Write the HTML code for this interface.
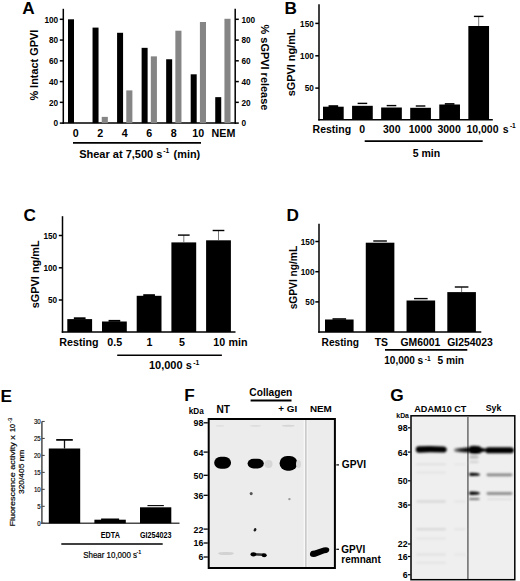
<!DOCTYPE html>
<html><head><meta charset="utf-8"><style>
html,body{margin:0;padding:0;background:#fff;}
svg{display:block;font-family:"Liberation Sans", sans-serif;}
</style></head><body>
<svg width="520" height="581" viewBox="0 0 520 581">
<defs>
<filter id="bl1" x="-50%" y="-50%" width="200%" height="200%"><feGaussianBlur stdDeviation="0.75"/></filter>
<filter id="bl2" x="-50%" y="-50%" width="200%" height="200%"><feGaussianBlur stdDeviation="0.8"/></filter>
<linearGradient id="lg2" x1="0" x2="1" y1="0" y2="0"><stop offset="0" stop-color="#9a9a9a"/><stop offset="0.45" stop-color="#333"/><stop offset="1" stop-color="#000"/></linearGradient>
</defs>
<rect width="520" height="581" fill="#fff"/>
<text transform="translate(22.30,13.80)" font-size="17.2" font-weight="bold" text-anchor="start" fill="#000" >A</text>
<line x1="63.30" y1="8.80" x2="63.30" y2="123.85" stroke="#000" stroke-width="1.5"/>
<line x1="235.20" y1="8.80" x2="235.20" y2="123.85" stroke="#000" stroke-width="1.5"/>
<line x1="62.55" y1="123.10" x2="235.95" y2="123.10" stroke="#000" stroke-width="1.5"/>
<line x1="59.80" y1="123.10" x2="63.30" y2="123.10" stroke="#000" stroke-width="1.5"/>
<line x1="235.20" y1="123.10" x2="238.80" y2="123.10" stroke="#000" stroke-width="1.5"/>
<text transform="translate(58.20,126.45) scale(0.84,1.0)" font-size="9.8" font-weight="bold" text-anchor="end" fill="#000" >0</text>
<text transform="translate(241.40,126.45) scale(0.84,1.0)" font-size="9.8" font-weight="bold" text-anchor="start" fill="#000" >0</text>
<line x1="59.80" y1="102.34" x2="63.30" y2="102.34" stroke="#000" stroke-width="1.5"/>
<line x1="235.20" y1="102.34" x2="238.80" y2="102.34" stroke="#000" stroke-width="1.5"/>
<text transform="translate(58.20,105.69) scale(0.84,1.0)" font-size="9.8" font-weight="bold" text-anchor="end" fill="#000" >20</text>
<text transform="translate(241.40,105.69) scale(0.84,1.0)" font-size="9.8" font-weight="bold" text-anchor="start" fill="#000" >20</text>
<line x1="59.80" y1="81.58" x2="63.30" y2="81.58" stroke="#000" stroke-width="1.5"/>
<line x1="235.20" y1="81.58" x2="238.80" y2="81.58" stroke="#000" stroke-width="1.5"/>
<text transform="translate(58.20,84.93) scale(0.84,1.0)" font-size="9.8" font-weight="bold" text-anchor="end" fill="#000" >40</text>
<text transform="translate(241.40,84.93) scale(0.84,1.0)" font-size="9.8" font-weight="bold" text-anchor="start" fill="#000" >40</text>
<line x1="59.80" y1="60.82" x2="63.30" y2="60.82" stroke="#000" stroke-width="1.5"/>
<line x1="235.20" y1="60.82" x2="238.80" y2="60.82" stroke="#000" stroke-width="1.5"/>
<text transform="translate(58.20,64.17) scale(0.84,1.0)" font-size="9.8" font-weight="bold" text-anchor="end" fill="#000" >60</text>
<text transform="translate(241.40,64.17) scale(0.84,1.0)" font-size="9.8" font-weight="bold" text-anchor="start" fill="#000" >60</text>
<line x1="59.80" y1="40.06" x2="63.30" y2="40.06" stroke="#000" stroke-width="1.5"/>
<line x1="235.20" y1="40.06" x2="238.80" y2="40.06" stroke="#000" stroke-width="1.5"/>
<text transform="translate(58.20,43.41) scale(0.84,1.0)" font-size="9.8" font-weight="bold" text-anchor="end" fill="#000" >80</text>
<text transform="translate(241.40,43.41) scale(0.84,1.0)" font-size="9.8" font-weight="bold" text-anchor="start" fill="#000" >80</text>
<line x1="59.80" y1="19.30" x2="63.30" y2="19.30" stroke="#000" stroke-width="1.5"/>
<line x1="235.20" y1="19.30" x2="238.80" y2="19.30" stroke="#000" stroke-width="1.5"/>
<text transform="translate(58.20,22.65) scale(0.84,1.0)" font-size="9.8" font-weight="bold" text-anchor="end" fill="#000" >100</text>
<text transform="translate(241.40,22.65) scale(0.84,1.0)" font-size="9.8" font-weight="bold" text-anchor="start" fill="#000" >100</text>
<rect x="68.00" y="19.30" width="6.00" height="103.80" fill="#000"/>
<rect x="92.54" y="27.60" width="6.00" height="95.50" fill="#000"/>
<rect x="101.74" y="116.87" width="6.10" height="6.23" fill="#858585"/>
<rect x="117.08" y="32.79" width="6.00" height="90.31" fill="#000"/>
<rect x="126.28" y="90.40" width="6.10" height="32.70" fill="#858585"/>
<rect x="141.62" y="47.84" width="6.00" height="75.25" fill="#000"/>
<rect x="150.82" y="56.36" width="6.10" height="66.74" fill="#858585"/>
<rect x="166.16" y="59.26" width="6.00" height="63.84" fill="#000"/>
<rect x="175.36" y="30.72" width="6.10" height="92.38" fill="#858585"/>
<rect x="190.70" y="74.31" width="6.00" height="48.79" fill="#000"/>
<rect x="199.90" y="22.00" width="6.10" height="101.10" fill="#858585"/>
<rect x="215.24" y="97.15" width="6.00" height="25.95" fill="#000"/>
<rect x="224.44" y="18.78" width="6.10" height="104.32" fill="#858585"/>
<text transform="translate(75.60,137.20)" font-size="10.7" font-weight="bold" text-anchor="middle" fill="#000" >0</text>
<text transform="translate(100.14,137.20)" font-size="10.7" font-weight="bold" text-anchor="middle" fill="#000" >2</text>
<text transform="translate(124.68,137.20)" font-size="10.7" font-weight="bold" text-anchor="middle" fill="#000" >4</text>
<text transform="translate(149.22,137.20)" font-size="10.7" font-weight="bold" text-anchor="middle" fill="#000" >6</text>
<text transform="translate(173.76,137.20)" font-size="10.7" font-weight="bold" text-anchor="middle" fill="#000" >8</text>
<text transform="translate(198.30,137.20)" font-size="10.7" font-weight="bold" text-anchor="middle" fill="#000" >10</text>
<text transform="translate(223.44,137.20)" font-size="10.7" font-weight="bold" text-anchor="middle" fill="#000" >NEM</text>
<line x1="73.00" y1="142.80" x2="201.00" y2="142.80" stroke="#000" stroke-width="1.8"/>
<text transform="translate(79.20,157.80)" font-size="11.0" font-weight="bold" text-anchor="start" fill="#000" >Shear at 7,500 s</text>
<text transform="translate(163.20,153.30)" font-size="6.8" font-weight="bold" text-anchor="start" fill="#000" >-1</text>
<text transform="translate(173.60,157.70)" font-size="10.9" font-weight="bold" text-anchor="start" fill="#000" >(min)</text>
<text transform="translate(38.10,100.60) rotate(-90)" font-size="10.9" font-weight="bold" text-anchor="start" fill="#000" >% Intact GPVI</text>
<text transform="translate(260.90,24.60) rotate(90)" font-size="10.95" font-weight="bold" text-anchor="start" fill="#000" >% sGPVI release</text>
<text transform="translate(284.60,13.60)" font-size="17.2" font-weight="bold" text-anchor="start" fill="#000" >B</text>
<line x1="319.00" y1="4.30" x2="319.00" y2="120.55" stroke="#000" stroke-width="1.5"/>
<line x1="318.25" y1="119.80" x2="492.80" y2="119.80" stroke="#000" stroke-width="1.5"/>
<line x1="315.30" y1="88.10" x2="319.00" y2="88.10" stroke="#000" stroke-width="1.5"/>
<text transform="translate(313.80,91.45) scale(0.84,1.0)" font-size="9.8" font-weight="bold" text-anchor="end" fill="#000" >50</text>
<line x1="315.30" y1="55.80" x2="319.00" y2="55.80" stroke="#000" stroke-width="1.5"/>
<text transform="translate(313.80,59.15) scale(0.84,1.0)" font-size="9.8" font-weight="bold" text-anchor="end" fill="#000" >100</text>
<line x1="315.30" y1="23.40" x2="319.00" y2="23.40" stroke="#000" stroke-width="1.5"/>
<text transform="translate(313.80,26.75) scale(0.84,1.0)" font-size="9.8" font-weight="bold" text-anchor="end" fill="#000" >150</text>
<rect x="323.00" y="106.70" width="20.70" height="13.10" fill="#000"/>
<rect x="328.55" y="105.20" width="9.60" height="1.80" fill="#000"/>
<rect x="352.07" y="105.80" width="20.70" height="14.00" fill="#000"/>
<rect x="357.62" y="102.70" width="9.60" height="1.40" fill="#000"/>
<rect x="381.14" y="107.50" width="20.70" height="12.30" fill="#000"/>
<rect x="386.69" y="104.90" width="9.60" height="1.40" fill="#000"/>
<rect x="410.21" y="107.80" width="20.70" height="12.00" fill="#000"/>
<rect x="415.76" y="105.30" width="9.60" height="1.40" fill="#000"/>
<rect x="439.28" y="104.50" width="20.70" height="15.30" fill="#000"/>
<rect x="444.83" y="103.10" width="9.60" height="1.70" fill="#000"/>
<rect x="468.35" y="26.00" width="20.70" height="93.80" fill="#000"/>
<line x1="478.70" y1="26.00" x2="478.70" y2="16.40" stroke="#555" stroke-width="0.8"/>
<rect x="473.90" y="15.70" width="9.60" height="1.40" fill="#000"/>
<text transform="translate(331.80,133.00)" font-size="10.5" font-weight="bold" text-anchor="middle" fill="#000" >Resting</text>
<text transform="translate(362.20,133.00)" font-size="10.5" font-weight="bold" text-anchor="middle" fill="#000" >0</text>
<text transform="translate(391.80,133.00)" font-size="10.5" font-weight="bold" text-anchor="middle" fill="#000" >300</text>
<text transform="translate(420.40,133.00)" font-size="10.5" font-weight="bold" text-anchor="middle" fill="#000" >1000</text>
<text transform="translate(449.10,133.00)" font-size="10.5" font-weight="bold" text-anchor="middle" fill="#000" >3000</text>
<text transform="translate(466.40,133.00)" font-size="10.5" font-weight="bold" text-anchor="start" fill="#000" >10,000</text>
<text transform="translate(502.80,133.00)" font-size="10.5" font-weight="bold" text-anchor="start" fill="#000" >s</text>
<text transform="translate(509.90,127.60)" font-size="6.6" font-weight="bold" text-anchor="start" fill="#000" >-1</text>
<line x1="364.70" y1="141.10" x2="482.70" y2="141.10" stroke="#000" stroke-width="1.6"/>
<text transform="translate(426.50,156.60)" font-size="10.5" font-weight="bold" text-anchor="middle" fill="#000" >5 min</text>
<text transform="translate(294.90,96.30) rotate(-90)" font-size="10.9" font-weight="bold" text-anchor="start" fill="#000" >sGPVI ng/mL</text>
<text transform="translate(23.60,221.20)" font-size="17.2" font-weight="bold" text-anchor="start" fill="#000" >C</text>
<line x1="62.50" y1="216.20" x2="62.50" y2="332.75" stroke="#000" stroke-width="1.5"/>
<line x1="61.75" y1="332.00" x2="235.50" y2="332.00" stroke="#000" stroke-width="1.5"/>
<line x1="58.80" y1="300.00" x2="62.50" y2="300.00" stroke="#000" stroke-width="1.5"/>
<text transform="translate(57.20,303.35) scale(0.84,1.0)" font-size="9.8" font-weight="bold" text-anchor="end" fill="#000" >50</text>
<line x1="58.80" y1="267.80" x2="62.50" y2="267.80" stroke="#000" stroke-width="1.5"/>
<text transform="translate(57.20,271.15) scale(0.84,1.0)" font-size="9.8" font-weight="bold" text-anchor="end" fill="#000" >100</text>
<line x1="58.80" y1="235.50" x2="62.50" y2="235.50" stroke="#000" stroke-width="1.5"/>
<text transform="translate(57.20,238.85) scale(0.84,1.0)" font-size="9.8" font-weight="bold" text-anchor="end" fill="#000" >150</text>
<rect x="67.30" y="319.10" width="24.80" height="12.90" fill="#000"/>
<rect x="73.85" y="317.30" width="11.70" height="2.10" fill="#000"/>
<rect x="102.00" y="321.50" width="24.80" height="10.50" fill="#000"/>
<rect x="108.55" y="319.90" width="11.70" height="1.90" fill="#000"/>
<rect x="136.70" y="295.80" width="24.80" height="36.20" fill="#000"/>
<rect x="143.25" y="294.20" width="11.70" height="1.90" fill="#000"/>
<rect x="171.40" y="242.40" width="24.80" height="89.60" fill="#000"/>
<line x1="183.80" y1="242.40" x2="183.80" y2="235.10" stroke="#555" stroke-width="0.8"/>
<rect x="177.95" y="234.40" width="11.70" height="1.40" fill="#000"/>
<rect x="206.10" y="240.30" width="24.80" height="91.70" fill="#000"/>
<line x1="218.50" y1="240.30" x2="218.50" y2="230.50" stroke="#555" stroke-width="0.8"/>
<rect x="212.65" y="229.80" width="11.70" height="1.40" fill="#000"/>
<text transform="translate(78.90,346.10)" font-size="10.7" font-weight="bold" text-anchor="middle" fill="#000" >Resting</text>
<text transform="translate(114.70,346.10)" font-size="10.7" font-weight="bold" text-anchor="middle" fill="#000" >0.5</text>
<text transform="translate(149.40,346.10)" font-size="10.7" font-weight="bold" text-anchor="middle" fill="#000" >1</text>
<text transform="translate(182.00,346.10)" font-size="10.7" font-weight="bold" text-anchor="middle" fill="#000" >5</text>
<text transform="translate(213.20,346.40)" font-size="10.7" font-weight="bold" text-anchor="start" fill="#000" >10</text>
<text transform="translate(228.60,346.40)" font-size="10.7" font-weight="bold" text-anchor="start" fill="#000" >min</text>
<line x1="117.20" y1="355.30" x2="221.90" y2="355.30" stroke="#000" stroke-width="1.6"/>
<text transform="translate(148.90,368.70)" font-size="11" font-weight="bold" text-anchor="start" fill="#000" >10,000</text>
<text transform="translate(185.80,368.90)" font-size="11" font-weight="bold" text-anchor="start" fill="#000" >s</text>
<text transform="translate(193.20,364.70)" font-size="6.8" font-weight="bold" text-anchor="start" fill="#000" >-1</text>
<text transform="translate(39.10,308.20) rotate(-90)" font-size="10.9" font-weight="bold" text-anchor="start" fill="#000" >sGPVI ng/mL</text>
<text transform="translate(286.60,220.80)" font-size="17.2" font-weight="bold" text-anchor="start" fill="#000" >D</text>
<line x1="319.00" y1="223.80" x2="319.00" y2="332.75" stroke="#000" stroke-width="1.5"/>
<line x1="318.25" y1="332.00" x2="481.30" y2="332.00" stroke="#000" stroke-width="1.5"/>
<line x1="315.30" y1="301.90" x2="319.00" y2="301.90" stroke="#000" stroke-width="1.5"/>
<text transform="translate(314.50,305.25) scale(0.84,1.0)" font-size="9.8" font-weight="bold" text-anchor="end" fill="#000" >50</text>
<line x1="315.30" y1="271.70" x2="319.00" y2="271.70" stroke="#000" stroke-width="1.5"/>
<text transform="translate(314.50,275.05) scale(0.84,1.0)" font-size="9.8" font-weight="bold" text-anchor="end" fill="#000" >100</text>
<line x1="315.30" y1="241.50" x2="319.00" y2="241.50" stroke="#000" stroke-width="1.5"/>
<text transform="translate(314.50,244.85) scale(0.84,1.0)" font-size="9.8" font-weight="bold" text-anchor="end" fill="#000" >150</text>
<rect x="325.00" y="319.50" width="28.60" height="12.50" fill="#000"/>
<rect x="332.50" y="318.20" width="13.60" height="1.60" fill="#000"/>
<rect x="365.77" y="242.70" width="28.60" height="89.30" fill="#000"/>
<rect x="373.27" y="240.30" width="13.60" height="1.40" fill="#000"/>
<rect x="406.54" y="300.50" width="28.60" height="31.50" fill="#000"/>
<rect x="414.04" y="297.90" width="13.60" height="1.40" fill="#000"/>
<rect x="447.31" y="292.10" width="28.60" height="39.90" fill="#000"/>
<line x1="461.61" y1="292.10" x2="461.61" y2="287.00" stroke="#555" stroke-width="0.8"/>
<rect x="454.81" y="286.30" width="13.60" height="1.40" fill="#000"/>
<text transform="translate(340.20,346.30)" font-size="10.2" font-weight="bold" text-anchor="middle" fill="#000" >Resting</text>
<text transform="translate(381.40,346.20)" font-size="10.4" font-weight="bold" text-anchor="middle" fill="#000" >TS</text>
<text transform="translate(420.40,346.30)" font-size="10.4" font-weight="bold" text-anchor="middle" fill="#000" >GM6001</text>
<text transform="translate(470.00,346.30)" font-size="10.4" font-weight="bold" text-anchor="middle" fill="#000" >GI254023</text>
<line x1="385.00" y1="349.90" x2="467.30" y2="349.90" stroke="#000" stroke-width="1.6"/>
<text transform="translate(384.30,364.30)" font-size="10.0" font-weight="bold" text-anchor="start" fill="#000" >10,000</text>
<text transform="translate(417.50,364.30)" font-size="10.2" font-weight="bold" text-anchor="start" fill="#000" >s</text>
<text transform="translate(424.70,360.60)" font-size="6.6" font-weight="bold" text-anchor="start" fill="#000" >-1</text>
<text transform="translate(437.40,364.30)" font-size="10.2" font-weight="bold" text-anchor="start" fill="#000" >5 min</text>
<text transform="translate(297.30,309.30) rotate(-90)" font-size="10.2" font-weight="bold" text-anchor="start" fill="#000" >sGPVI ng/mL</text>
<text transform="translate(0.60,401.90)" font-size="17.2" font-weight="bold" text-anchor="start" fill="#000" >E</text>
<line x1="41.90" y1="421.50" x2="41.90" y2="523.90" stroke="#4a4a4a" stroke-width="1.5"/>
<line x1="41.30" y1="523.30" x2="179.50" y2="523.30" stroke="#4a4a4a" stroke-width="1.4"/>
<line x1="41.90" y1="523.30" x2="44.70" y2="523.30" stroke="#4a4a4a" stroke-width="1.1"/>
<text transform="translate(40.70,525.80) scale(0.85,1.0)" font-size="7.2" font-weight="normal" text-anchor="end" fill="#000" stroke="#000" stroke-width="0.15">0</text>
<line x1="41.90" y1="506.33" x2="44.70" y2="506.33" stroke="#4a4a4a" stroke-width="1.1"/>
<text transform="translate(40.70,508.83) scale(0.85,1.0)" font-size="7.2" font-weight="normal" text-anchor="end" fill="#000" stroke="#000" stroke-width="0.15">5</text>
<line x1="41.90" y1="489.36" x2="44.70" y2="489.36" stroke="#4a4a4a" stroke-width="1.1"/>
<text transform="translate(40.70,491.86) scale(0.85,1.0)" font-size="7.2" font-weight="normal" text-anchor="end" fill="#000" stroke="#000" stroke-width="0.15">10</text>
<line x1="41.90" y1="472.39" x2="44.70" y2="472.39" stroke="#4a4a4a" stroke-width="1.1"/>
<text transform="translate(40.70,474.89) scale(0.85,1.0)" font-size="7.2" font-weight="normal" text-anchor="end" fill="#000" stroke="#000" stroke-width="0.15">15</text>
<line x1="41.90" y1="455.42" x2="44.70" y2="455.42" stroke="#4a4a4a" stroke-width="1.1"/>
<text transform="translate(40.70,457.92) scale(0.85,1.0)" font-size="7.2" font-weight="normal" text-anchor="end" fill="#000" stroke="#000" stroke-width="0.15">20</text>
<line x1="41.90" y1="438.45" x2="44.70" y2="438.45" stroke="#4a4a4a" stroke-width="1.1"/>
<text transform="translate(40.70,440.95) scale(0.85,1.0)" font-size="7.2" font-weight="normal" text-anchor="end" fill="#000" stroke="#000" stroke-width="0.15">25</text>
<line x1="41.90" y1="421.48" x2="44.70" y2="421.48" stroke="#4a4a4a" stroke-width="1.1"/>
<text transform="translate(40.70,423.98) scale(0.85,1.0)" font-size="7.2" font-weight="normal" text-anchor="end" fill="#000" stroke="#000" stroke-width="0.15">30</text>
<rect x="48.80" y="448.50" width="31.40" height="74.80" fill="#000"/>
<line x1="64.50" y1="448.50" x2="64.50" y2="439.90" stroke="#111" stroke-width="1.3"/>
<rect x="56.20" y="439.05" width="16.60" height="1.70" fill="#000"/>
<rect x="94.40" y="519.70" width="31.40" height="3.60" fill="#000"/>
<rect x="101.10" y="518.50" width="18.00" height="1.50" fill="#000"/>
<rect x="140.00" y="507.30" width="31.30" height="16.00" fill="#000"/>
<rect x="147.45" y="505.05" width="16.40" height="1.10" fill="#000"/>
<text transform="translate(110.30,538.10) scale(0.84,1.0)" font-size="8.6" font-weight="bold" text-anchor="middle" fill="#000" >EDTA</text>
<text transform="translate(155.70,538.10) scale(0.815,1.0)" font-size="8.8" font-weight="bold" text-anchor="middle" fill="#000" >GI254023</text>
<line x1="61.30" y1="544.10" x2="162.70" y2="544.10" stroke="#000" stroke-width="1.5"/>
<text transform="translate(83.20,557.90) scale(0.925,1.0)" font-size="8.6" font-weight="normal" text-anchor="start" fill="#000" stroke="#000" stroke-width="0.2">Shear 10,000 s</text>
<text transform="translate(136.40,554.00) scale(0.94,1.0)" font-size="5.8" font-weight="bold" text-anchor="start" fill="#000" >-1</text>
<text transform="translate(15.20,526.60) rotate(-90) scale(1.0,0.88)" font-size="9.05" font-weight="normal" text-anchor="start" fill="#000" stroke="#000" stroke-width="0.2">Fluorescence activity x</text>
<text transform="translate(15.10,432.00) rotate(-90)" font-size="7.2" font-weight="normal" text-anchor="start" fill="#000" stroke="#000" stroke-width="0.2">10</text>
<text transform="translate(11.90,423.00) rotate(-90)" font-size="6.0" font-weight="normal" text-anchor="start" fill="#000" stroke="#000" stroke-width="0.15">-3</text>
<text transform="translate(24.20,494.00) rotate(-90) scale(1.0,0.95)" font-size="8.4" font-weight="normal" text-anchor="start" fill="#000" stroke="#000" stroke-width="0.2">320/405 nm</text>
<text transform="translate(184.30,401.10)" font-size="17.2" font-weight="bold" text-anchor="start" fill="#000" >F</text>
<text transform="translate(188.70,414.20)" font-size="8.2" font-weight="bold" text-anchor="start" fill="#000" >kDa</text>
<text transform="translate(216.40,412.90)" font-size="10.1" font-weight="bold" text-anchor="start" fill="#000" >NT</text>
<text transform="translate(249.30,395.80)" font-size="10.2" font-weight="bold" text-anchor="start" fill="#000" >Collagen</text>
<line x1="250.60" y1="400.40" x2="291.50" y2="400.40" stroke="#000" stroke-width="2"/>
<text transform="translate(278.20,412.20)" font-size="9.9" font-weight="bold" text-anchor="start" fill="#000" >+ GI</text>
<text transform="translate(309.90,412.40)" font-size="9.9" font-weight="bold" text-anchor="start" fill="#000" >NEM</text>
<rect x="208.7" y="419" width="126.2" height="149" fill="#ececec" stroke="#000" stroke-width="2"/>
<rect x="303.60" y="420.00" width="3.90" height="147.00" fill="#f8f8f8"/>
<line x1="305.90" y1="420.00" x2="305.90" y2="567.00" stroke="#bdbdbd" stroke-width="1.3"/>
<line x1="203.60" y1="422.80" x2="207.80" y2="422.80" stroke="#000" stroke-width="1.3"/>
<text transform="translate(203.40,426.20) scale(0.92,1.0)" font-size="9.6" font-weight="bold" text-anchor="end" fill="#000" >98</text>
<line x1="203.60" y1="452.10" x2="207.80" y2="452.10" stroke="#000" stroke-width="1.3"/>
<text transform="translate(203.40,455.50) scale(0.92,1.0)" font-size="9.6" font-weight="bold" text-anchor="end" fill="#000" >64</text>
<line x1="203.60" y1="475.30" x2="207.80" y2="475.30" stroke="#000" stroke-width="1.3"/>
<text transform="translate(203.40,478.70) scale(0.92,1.0)" font-size="9.6" font-weight="bold" text-anchor="end" fill="#000" >50</text>
<line x1="203.60" y1="495.30" x2="207.80" y2="495.30" stroke="#000" stroke-width="1.3"/>
<text transform="translate(203.40,498.70) scale(0.92,1.0)" font-size="9.6" font-weight="bold" text-anchor="end" fill="#000" >36</text>
<line x1="203.60" y1="529.10" x2="207.80" y2="529.10" stroke="#000" stroke-width="1.3"/>
<text transform="translate(203.40,532.50) scale(0.92,1.0)" font-size="9.6" font-weight="bold" text-anchor="end" fill="#000" >22</text>
<line x1="203.60" y1="543.00" x2="207.80" y2="543.00" stroke="#000" stroke-width="1.3"/>
<text transform="translate(203.40,546.40) scale(0.92,1.0)" font-size="9.6" font-weight="bold" text-anchor="end" fill="#000" >16</text>
<line x1="203.60" y1="557.00" x2="207.80" y2="557.00" stroke="#000" stroke-width="1.3"/>
<text transform="translate(203.40,560.40) scale(0.92,1.0)" font-size="9.6" font-weight="bold" text-anchor="end" fill="#000" >6</text>
<g filter="url(#bl1)">
<rect x="214.2" y="456.8" width="16.8" height="12.0" rx="6.5" ry="5.8" fill="#000"/>
<rect x="247.6" y="458.7" width="16.2" height="9.8" rx="6" ry="4.9" fill="#000"/>
<rect x="279.6" y="455.9" width="17.8" height="14.8" rx="7.5" ry="7.2" fill="#000"/>
<ellipse cx="268.5" cy="464" rx="4" ry="4" fill="#d6d6d6"/>
<ellipse cx="298.5" cy="464" rx="2.5" ry="4" fill="#d8d8d8"/>
<path d="M253,553 L264,553.6 L264,556 L253,555.4 Z" fill="#333"/>
<ellipse cx="253.4" cy="554.3" rx="2.9" ry="2.1" fill="#000"/>
<ellipse cx="264.2" cy="555.2" rx="2.5" ry="2.0" fill="#000"/>
<ellipse cx="226" cy="553.5" rx="8" ry="1.6" fill="#d2d2d2"/>
<path d="M309.9,554 Q310.2,550.6 314.5,550.6 L323.5,547.6 Q329.4,546.6 329.3,550 Q329.1,553 324.5,553.2 L315.5,556.8 Q309.7,557.6 309.9,554 Z" fill="#000"/>
<ellipse cx="251.2" cy="493.6" rx="1.5" ry="1.7" fill="#555"/>
<circle cx="289.4" cy="499.1" r="1.2" fill="#9a9a9a"/>
<ellipse cx="255.0" cy="529.8" rx="1.3" ry="1.8" transform="rotate(30 255 529.8)" fill="#1a1a1a"/>
<ellipse cx="220" cy="425.8" rx="4.5" ry="0.9" fill="#e0e0e0"/>
<ellipse cx="255.5" cy="425.8" rx="6" ry="0.9" fill="#dddddd"/>
<ellipse cx="288.3" cy="425.8" rx="6.5" ry="1.0" fill="#d6d6d6"/>
</g>
<line x1="336.30" y1="464.90" x2="339.00" y2="464.90" stroke="#000" stroke-width="1.2"/>
<text transform="translate(341.80,467.90)" font-size="10.2" font-weight="bold" text-anchor="start" fill="#000" >GPVI</text>
<line x1="336.30" y1="549.30" x2="339.00" y2="549.30" stroke="#000" stroke-width="1.2"/>
<text transform="translate(341.30,552.80)" font-size="10.0" font-weight="bold" text-anchor="start" fill="#000" >GPVI</text>
<text transform="translate(341.30,563.30)" font-size="10.0" font-weight="bold" text-anchor="start" fill="#000" >remnant</text>
<text transform="translate(390.20,401.00)" font-size="17.3" font-weight="bold" text-anchor="start" fill="#000" >G</text>
<text transform="translate(396.30,418.00)" font-size="6.9" font-weight="bold" text-anchor="start" fill="#000" >kDa</text>
<text transform="translate(414.30,412.40)" font-size="9.1" font-weight="bold" text-anchor="start" fill="#000" >ADAM10 CT</text>
<text transform="translate(485.70,410.60)" font-size="8.8" font-weight="bold" text-anchor="start" fill="#000" >Syk</text>
<rect x="411" y="415.8" width="103.8" height="163.9" fill="#efefef" stroke="#000" stroke-width="1.5"/>
<line x1="467.90" y1="416.50" x2="467.90" y2="579.00" stroke="#6a6a6a" stroke-width="1.5"/>
<line x1="407.90" y1="427.80" x2="410.50" y2="427.80" stroke="#000" stroke-width="1.2"/>
<text transform="translate(407.60,431.20) scale(0.92,1.0)" font-size="9.6" font-weight="bold" text-anchor="end" fill="#000" >98</text>
<line x1="407.90" y1="452.10" x2="410.50" y2="452.10" stroke="#000" stroke-width="1.2"/>
<text transform="translate(407.60,455.50) scale(0.92,1.0)" font-size="9.6" font-weight="bold" text-anchor="end" fill="#000" >64</text>
<line x1="407.90" y1="480.80" x2="410.50" y2="480.80" stroke="#000" stroke-width="1.2"/>
<text transform="translate(407.60,484.20) scale(0.92,1.0)" font-size="9.6" font-weight="bold" text-anchor="end" fill="#000" >50</text>
<line x1="407.90" y1="505.00" x2="410.50" y2="505.00" stroke="#000" stroke-width="1.2"/>
<text transform="translate(407.60,508.40) scale(0.92,1.0)" font-size="9.6" font-weight="bold" text-anchor="end" fill="#000" >36</text>
<line x1="407.90" y1="544.00" x2="410.50" y2="544.00" stroke="#000" stroke-width="1.2"/>
<text transform="translate(407.60,547.40) scale(0.92,1.0)" font-size="9.6" font-weight="bold" text-anchor="end" fill="#000" >22</text>
<line x1="407.90" y1="556.50" x2="410.50" y2="556.50" stroke="#000" stroke-width="1.2"/>
<text transform="translate(407.60,559.90) scale(0.92,1.0)" font-size="9.6" font-weight="bold" text-anchor="end" fill="#000" >16</text>
<line x1="407.90" y1="574.70" x2="410.50" y2="574.70" stroke="#000" stroke-width="1.2"/>
<text transform="translate(407.60,578.10) scale(0.92,1.0)" font-size="9.6" font-weight="bold" text-anchor="end" fill="#000" >6</text>
<g filter="url(#bl2)">
<path d="M415.8,449.4 Q415.8,446.2 419,446.3 L430,446.0 L443,446.4 Q446.8,446.6 446.8,449.5 Q446.8,452.6 443,452.6 L430,452.3 L419,452.7 Q415.8,452.7 415.8,449.4 Z" fill="#000"/>
<path d="M453.8,450 Q453.8,448.4 456,448.2 L468,447.6 L468,452.4 L456,452 Q453.8,451.8 453.8,450 Z" fill="url(#lg2)"/>
<path d="M468,449.8 Q468,445.8 474,445.8 Q480.5,445.8 481.5,448 L485,448.6 L485,451.6 L481.5,452 Q480.5,454 474,454 Q468,454 468,449.8 Z" fill="#000"/>
<path d="M485,450.2 Q485,447.2 489,447.2 L510,447.2 Q514,447.3 514,450.2 Q514,453.3 510,453.3 L489,453.3 Q485,453.3 485,450.2 Z" fill="#000"/>
<path d="M469,474.3 Q469,472.7 471,472.7 L476,472.9 Q480,473.4 480,474.4 Q480,475.5 476,475.8 L471,476 Q469,476 469,474.3 Z" fill="#000"/>
<path d="M469,493.2 Q469,491.6 471,491.6 L476,491.8 Q480,492.3 480,493.3 Q480,494.4 476,494.7 L471,494.9 Q469,494.9 469,493.2 Z" fill="#000"/>
<rect x="469" y="497.9" width="10.5" height="2.0" rx="1" fill="#777"/>
<rect x="486.5" y="473.4" width="26" height="2.8" rx="1.4" fill="#858585"/>
<rect x="486.5" y="492.1" width="26" height="2.8" rx="1.4" fill="#909090"/>
<rect x="487" y="498.4" width="25" height="1.4" rx="0.7" fill="#d8d8d8"/>
<rect x="469.5" y="455.5" width="9" height="3" rx="1.5" fill="#b8b8b8"/>
<rect x="469.5" y="461" width="9" height="2" rx="1" fill="#d0d0d0"/>
<rect x="416" y="463.3" width="30" height="2" rx="1" fill="#e0e0e0"/>
<rect x="416" y="471.5" width="30" height="2" rx="1" fill="#e3e3e3"/>
<rect x="416" y="500.5" width="30" height="2" rx="1" fill="#d3d3d3"/>
<rect x="416" y="528.2" width="30" height="2" rx="1" fill="#d5d5d5"/>
<rect x="416" y="537.5" width="30" height="2" rx="1" fill="#e3e3e3"/>
<rect x="416" y="553.6" width="30" height="2" rx="1" fill="#e0e0e0"/>
<rect x="416" y="561.7" width="30" height="2" rx="1" fill="#e3e3e3"/>
<rect x="454" y="463.3" width="12" height="2" rx="1" fill="#e6e6e6"/>
<rect x="454" y="500.5" width="12" height="2" rx="1" fill="#e4e4e4"/>
<rect x="454" y="528.2" width="12" height="2" rx="1" fill="#e4e4e4"/>
<rect x="454" y="553.6" width="12" height="2" rx="1" fill="#e6e6e6"/>
</g>
</svg>
</body></html>
